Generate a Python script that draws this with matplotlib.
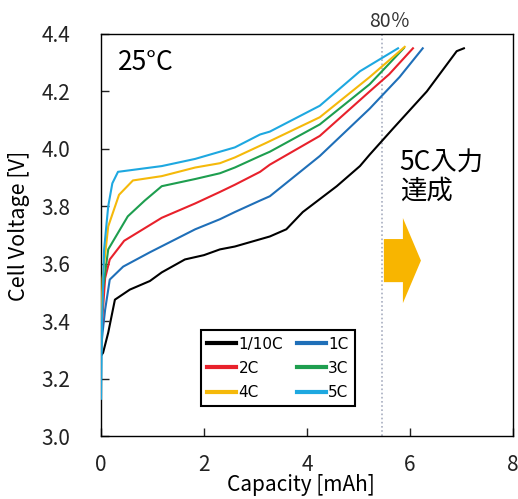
import matplotlib
matplotlib.use("Agg")
import matplotlib.pyplot as plt
from matplotlib.patches import FancyArrow

plt.rcParams['font.family'] = ['Noto Sans CJK JP', 'DejaVu Sans']

# charge curves at 25C, capacity [mAh] vs cell voltage [V]
labels = ["1/10C", "1C", "2C", "3C", "4C", "5C"]
colors = ["#000000", "#1f6fb8", "#e8212b", "#1e9e4f", "#f5b90a", "#1ea8e0"]

cap_01c = [0, 0.04, 0.14, 0.27, 0.56, 0.95, 1.18, 1.63, 2.0, 2.31, 2.6, 3.28, 3.6, 3.92, 4.58, 5.03, 5.22,
           5.67, 6.33, 6.91, 7.05]
v_01c = [3.28, 3.29, 3.36, 3.475, 3.51, 3.54, 3.57, 3.615, 3.63, 3.65, 3.66, 3.695, 3.72, 3.78, 3.87, 3.94, 3.98,
         4.07, 4.2, 4.34, 4.35]

cap_1c = [0, 0.03, 0.08, 0.17, 0.43, 0.95, 1.83, 2.31, 2.6, 3.09, 3.28, 4.25, 5.22, 5.8, 6.25]
v_1c = [3.3, 3.36, 3.44, 3.545, 3.59, 3.64, 3.72, 3.755, 3.78, 3.82, 3.835, 3.975, 4.14, 4.25, 4.35]

cap_2c = [0, 0.03, 0.08, 0.17, 0.45, 1.18, 1.83, 2.31, 2.6, 3.09, 3.28, 4.25, 5.22, 5.6, 6.06]
v_2c = [3.3, 3.42, 3.55, 3.615, 3.68, 3.76, 3.81, 3.85, 3.875, 3.92, 3.945, 4.045, 4.2, 4.26, 4.35]

cap_3c = [0, 0.03, 0.14, 0.52, 0.85, 1.18, 1.83, 2.31, 2.6, 3.09, 3.28, 4.25, 5.22, 5.88]
v_3c = [3.3, 3.5, 3.65, 3.765, 3.82, 3.87, 3.895, 3.915, 3.935, 3.975, 3.99, 4.085, 4.225, 4.35]

cap_4c = [0, 0.03, 0.14, 0.35, 0.62, 1.18, 1.83, 2.31, 2.6, 3.2, 4.25, 5.22, 5.9]
v_4c = [3.3, 3.55, 3.73, 3.84, 3.89, 3.905, 3.935, 3.95, 3.97, 4.02, 4.11, 4.25, 4.355]

cap_5c = [0, 0.02, 0.06, 0.14, 0.22, 0.33, 1.18, 1.83, 2.31, 2.6, 3.09, 3.28, 4.25, 5.03, 5.77]
v_5c = [3.13, 3.4, 3.65, 3.8, 3.88, 3.92, 3.94, 3.965, 3.99, 4.005, 4.05, 4.06, 4.15, 4.27, 4.35]

caps = [cap_01c, cap_1c, cap_2c, cap_3c, cap_4c, cap_5c]
volts = [v_01c, v_1c, v_2c, v_3c, v_4c, v_5c]

soc80_cap = 5.46

# arrow (data units)
arrow_x, arrow_y = 5.495, 3.611
arrow_len, arrow_w, head_w, head_len = 0.72, 0.15, 0.296, 0.35

fig = plt.figure(figsize=(5.18, 4.99), dpi=100)
ax = fig.add_axes([0.195, 0.126, 0.795, 0.806])

ax.axvline(soc80_cap, color="#a8aec0", lw=1.2, ls=(0, (1, 1.5)), zorder=1)

lines = {}
for c, v, lab, col in zip(caps, volts, labels, colors):
    lines[lab], = ax.plot(c, v, color=col, lw=1.5, label=lab, zorder=3)

ax.add_patch(FancyArrow(arrow_x, arrow_y, arrow_len, 0, width=arrow_w, head_width=head_w,
                        head_length=head_len, length_includes_head=True, color="#f8b500", lw=0, zorder=2))

ax.set_xlim(0, 8)
ax.set_ylim(3.0, 4.4)
ax.set_xticks([0, 2, 4, 6, 8])
ax.set_yticks([3.0, 3.2, 3.4, 3.6, 3.8, 4.0, 4.2, 4.4])
ax.set_yticklabels(["3.0", "3.2", "3.4", "3.6", "3.8", "4.0", "4.2", "4.4"])
ax.tick_params(direction="in", length=6, width=1, labelsize=15, colors="#222222")
ax.tick_params(axis="x", pad=13)
ax.tick_params(axis="y", pad=22)
for s in ax.spines.values():
    s.set_linewidth(1.0)

ax.set_xlabel("Capacity [mAh]", fontsize=15, va="baseline")
ax.set_ylabel("Cell Voltage [V]", fontsize=15.5)
ax.xaxis.set_label_coords(0.485, -0.137)
ax.yaxis.set_label_coords(-0.172, 0.522)

ax.text(0.33, 4.3, "25°C", fontsize=19, va="center", ha="left")
ax.text(5.8, 3.9, "5C入力\n達成", fontsize=19, va="center", ha="left", linespacing=1.05)
ax.text(5.61, 4.445, "80％", fontsize=14, va="center", ha="center", color="#333333")

# row-major order like the original legend
order = ["1/10C", "2C", "4C", "1C", "3C", "5C"]
leg = ax.legend([lines[k] for k in order], order, ncol=2, loc="lower left",
                bbox_to_anchor=(0.243, 0.075), borderaxespad=0,
                handlelength=1.9, handletextpad=0.15, columnspacing=0.9,
                labelspacing=0.6, fancybox=False, edgecolor="black", framealpha=1,
                prop={"family": "DejaVu Sans", "size": 11})
leg.get_frame().set_linewidth(1.5)
for h in leg.get_lines():
    h.set_linewidth(3)

fig.savefig("out.png", dpi=100)
